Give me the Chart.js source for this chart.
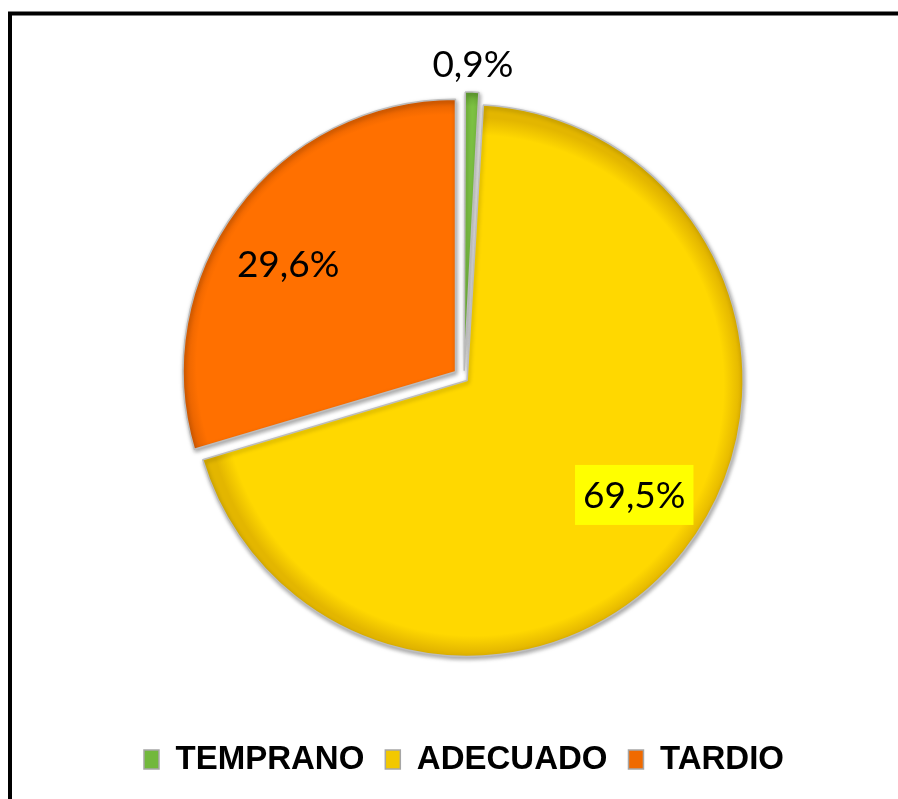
<!DOCTYPE html>
<html>
<head>
<meta charset="utf-8">
<script src="https://cdn.jsdelivr.net/npm/chart.js@4.4.1/dist/chart.umd.min.js"></script>
<style>
  html, body { margin: 0; padding: 0; background: #ffffff; }
  #wrap { width: 898px; height: 799px; position: relative; }
</style>
</head>
<body>
<div id="wrap"><canvas id="c" width="898" height="799"></canvas></div>
<script>
// ---- data ----
const categories = ['TEMPRANO', 'ADECUADO', 'TARDIO'];
const values = [0.9, 69.5, 29.6];
const valueLabels = ['0,9%', '69,5%', '29,6%'];

// ---- styles ----
const baseColors = ['#7CC142', '#FFD800', '#FF7000'];
const edgeColors = ['#5E9B2E', '#E3B600', '#D95C00'];
const legendColors = ['#72B83C', '#F2C800', '#F06A00'];
const sliceShift = [14, 8, 11];          // visible explode distance in px
const pieRadius = 272;

const total = values.reduce((a, b) => a + b, 0);
// Chart.js translates an arc by offset/4 * (1 + fix), fix = 1 - sin(min(PI, circumference))
const rawOffsets = values.map((v, i) => {
  const circ = v / total * Math.PI * 2;
  const fix = 1 - Math.sin(Math.min(Math.PI, circ));
  return sliceShift[i] * 4 / (1 + fix);
});

function sliceFill(context) {
  const chart = context.chart;
  const area = chart.chartArea;
  const i = context.dataIndex;
  if (!area || i === undefined) return baseColors[i] || baseColors[0];
  let cum = 0;
  for (let k = 0; k < i; k++) cum += values[k];
  const mid = -Math.PI / 2 + (cum + values[i] / 2) / total * Math.PI * 2;
  const cx = (area.left + area.right) / 2 + Math.cos(mid) * sliceShift[i];
  const cy = (area.top + area.bottom) / 2 + Math.sin(mid) * sliceShift[i];
  const g = chart.ctx.createRadialGradient(cx, cy, 0, cx, cy, pieRadius);
  g.addColorStop(0, baseColors[i]);
  g.addColorStop(0.92, baseColors[i]);
  g.addColorStop(0.985, edgeColors[i]);
  g.addColorStop(1, edgeColors[i]);
  return g;
}

const frame = {
  id: 'frame',
  beforeDraw(chart) {
    const ctx = chart.ctx;
    ctx.save();
    ctx.strokeStyle = '#000000';
    ctx.lineWidth = 4;
    ctx.strokeRect(10, 13.5, 2000, 2000);
    ctx.restore();
  }
};

const shadow = {
  id: 'shadow',
  beforeDatasetsDraw(chart) {
    const ctx = chart.ctx;
    ctx.save();
    ctx.shadowColor = 'rgba(0,0,0,0.35)';
    ctx.shadowBlur = 4;
    ctx.shadowOffsetX = 1;
    ctx.shadowOffsetY = 2;
  },
  afterDatasetsDraw(chart) {
    chart.ctx.restore();
  }
};

const valueText = {
  id: 'valueText',
  afterDatasetsDraw(chart, args, opts) {
    const ctx = chart.ctx;
    const meta = chart.getDatasetMeta(0);
    ctx.save();
    ctx.font = opts.font;
    ctx.textAlign = 'center';
    ctx.textBaseline = 'middle';
    meta.data.forEach((el, i) => {
      const p = el.getProps(['x', 'y', 'startAngle', 'endAngle', 'outerRadius'], true);
      const mid = (p.startAngle + p.endAngle) / 2;
      const off = sliceShift[i];
      const cx = p.x + Math.cos(mid) * off;
      const cy = p.y + Math.sin(mid) * off;
      const outside = values[i] < 5;
      const d = outside ? p.outerRadius + opts.outsideGap : p.outerRadius * opts.insideFrac;
      const a = outside ? mid : mid - opts.insideTurn;
      const x = cx + Math.cos(a) * d;
      const y = cy + Math.sin(a) * d;
      const t = valueLabels[i];
      if (opts.highlight[i]) {
        const w = ctx.measureText(t).width;
        ctx.fillStyle = opts.highlight[i];
        ctx.fillRect(x - w / 2 - 8, y - 30, w + 16, 60);
      }
      ctx.fillStyle = '#000000';
      ctx.fillText(t, x, y + 1);
    });
    ctx.restore();
  }
};

new Chart(document.getElementById('c'), {
  type: 'pie',
  data: {
    labels: categories,
    datasets: [{
      data: values,
      backgroundColor: sliceFill,
      borderColor: '#BDBDBD',
      borderWidth: 1.5,
      offset: rawOffsets,
      hoverOffset: 0
    }]
  },
  options: {
    responsive: false,
    animation: false,
    radius: pieRadius,
    layout: { padding: { left: 30, right: 0, top: 34, bottom: 13 } },
    plugins: {
      tooltip: { enabled: false },
      legend: {
        position: 'bottom',
        labels: {
          color: '#000000',
          boxWidth: 15,
          boxHeight: 19,
          padding: 21,
          font: { family: "'Liberation Sans', Arial, sans-serif", size: 33, weight: 'bold' },
          generateLabels(chart) {
            return categories.map((c, i) => ({
              text: c,
              fillStyle: legendColors[i],
              strokeStyle: '#A6A6A6',
              lineWidth: 1.5,
              hidden: false,
              index: i,
              datasetIndex: 0
            }));
          }
        }
      },
      valueText: {
        font: "37px Lato, 'Liberation Sans', sans-serif",
        outsideGap: 28,
        insideFrac: 0.73,
        insideTurn: 0.07,
        highlight: [null, '#FFFF00', null]
      }
    }
  },
  plugins: [frame, shadow, valueText]
});
</script>
</body>
</html>
